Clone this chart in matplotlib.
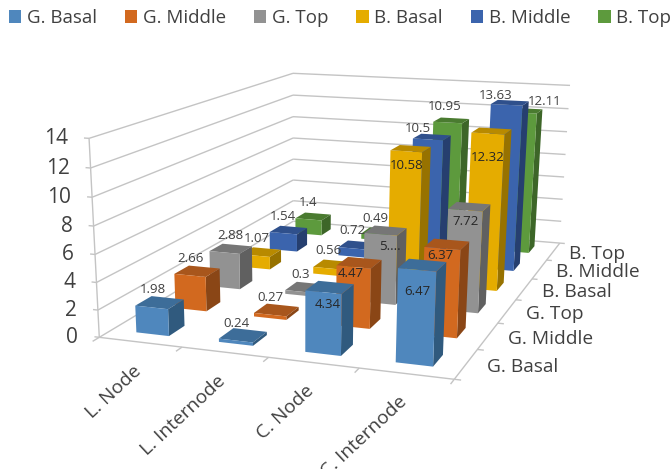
import numpy as np
import matplotlib
matplotlib.use('Agg')
import matplotlib.pyplot as plt
from matplotlib.patches import Patch
from mpl_toolkits.mplot3d.art3d import Line3DCollection

plt.rcParams['font.family'] = ['Open Sans', 'DejaVu Sans']

categories = ['L. Node', 'L. Internode', 'C. Node', 'C. Internode']
series = ['G. Basal', 'G. Middle', 'G. Top', 'B. Basal', 'B. Middle', 'B. Top']
g_basal = [1.98, 0.24, 4.34, 6.47]
g_middle = [2.66, 0.27, 4.47, 6.37]
g_top = [2.88, 0.30, 5.40, 7.72]
b_basal = [1.07, 0.56, 10.58, 12.32]
b_middle = [1.54, 0.72, 10.50, 13.63]
b_top = [1.40, 0.49, 10.95, 12.11]
values = [g_basal, g_middle, g_top, b_basal, b_middle, b_top]
z_ticks = [0, 2, 4, 6, 8, 10, 12, 14]

# label offset in pixels from the top front edge of each bar
label_offsets = [
    [(1, -18), (1, -17), (4, 12), (0, 22)],
    [(1, -17), (0, -17), (-3, 7), (-2, 7)],
    [(6, -17), (0, -17), (9, 12), (0, 11)],
    [(1, -17), (1, -18), (0, 14), (0, 24)],
    [(0, -17), (0, -18), (-10, -11), (-11, -9)],
    [(0, -17), (1, -16), (-3, -16), (23, -11)],
]

front_cols = ['#4f87bd', '#d2691f', '#929292', '#e5ac00', '#3b64ad', '#5d9a3d']
top_cols = ['#3d6d99', '#a8561c', '#767676', '#b88a00', '#2f508c', '#4a7b30']
side_cols = ['#305a7e', '#8a4616', '#606060', '#977200', '#263f6f', '#3d6628']
GRID = '#c4c4c4'
NONE = (0, 0, 0, 0)

# Camera: a projective map fitted to where the chart box corners lie in the image
world = np.array([[0, 0, 0], [4, 0, 0], [4, 6, 0], [0, 6, 0],
                  [0, 0, 14], [0, 6, 14], [4, 6, 14]], float)
image = np.array([[99.6, 337], [454, 380], [560, 242], [293, 222],
                  [89, 138], [293, 73], [570, 86]], float)
rows = []
for (X, Y, Z), (u, v) in zip(world, image):
    rows.append([X, Y, Z, 1, 0, 0, 0, 0, -u*X, -u*Y, -u*Z, -u])
    rows.append([0, 0, 0, 0, X, Y, Z, 1, -v*X, -v*Y, -v*Z, -v])
P = np.linalg.svd(np.array(rows))[2][-1].reshape(3, 4)
P = P / (P[2] @ np.array([2, 3, 5, 1]))
M = np.vstack([P[0], P[1], P[2] - np.array([0, 0, 0, 0.5]), P[2]])


def project(x, y, z):
    u, v, w = P @ np.array([x, y, z, 1.0])
    return u / w, v / w


fig = plt.figure(figsize=(6.7, 4.69), dpi=100)
ax = fig.add_axes([0, 0, 1, 1], projection='3d', computed_zorder=False)
ax.apply_aspect = lambda position=None: None
ax.get_proj = lambda: M
ax.set_axis_off()
ax.viewLim.intervalx = (0, 670)
ax.viewLim.intervaly = (469, 0)


def label(x, y, z, dx, dy, s, **kw):
    u, v = project(x, y, z)
    ax.text2D(u + dx, v + dy, s, transform=ax.transData, **kw)


# walls and floor
segs = []
for t in z_ticks:
    segs.append([(0, 0, t), (0, 6, t)])
    segs.append([(0, 6, t), (4, 6, t)])
    segs.append([(0, 0, t), (-0.06, 0, t)])
segs += [[(0, 0, 0), (0, 0, 14)], [(0, 0, 0), (4, 0, 0)], [(4, 0, 0), (4, 6, 0)]]
for i in range(len(categories) + 1):
    segs.append([(i, 0, 0), (i, -0.15, 0)])
for j in range(len(series) + 1):
    segs.append([(4, j, 0), (4.07, j, 0)])
ax.add_collection3d(Line3DCollection(segs, colors=GRID, linewidths=1, zorder=1))

# bars, painted back to front
bar_w = 0.4
order = 10
for j in reversed(range(len(series))):
    for i in range(len(categories)):
        ax.bar3d(i + 0.3, j + 0.3, 0, bar_w, bar_w, values[j][i], shade=False, linewidth=0,
                 color=[NONE, top_cols[j], front_cols[j], NONE, NONE, side_cols[j]],
                 zorder=order)
        order += 1

# data labels
for j in range(len(series)):
    for i in range(len(categories)):
        v = values[j][i]
        text = '5....' if (i, j) == (2, 2) else f'{v:g}'
        dx, dy = label_offsets[j][i]
        label(i + 0.5, j + 0.3, v, dx, dy, text, ha='center', va='center',
              fontsize=9.5, color='#262626' if dy > 0 else '#404040', zorder=100)

# axis labels
for t in z_ticks:
    label(0, 0, t, -21, 0, str(t), ha='right', va='center', fontsize=15, color='#404040', zorder=100)
for i, c in enumerate(categories):
    label(i + 0.5, 0, 0, -2, 26, c, ha='right', va='center', rotation=43,
          rotation_mode='anchor', fontsize=13.8, color='#404040', zorder=100)
for j, s in enumerate(series):
    label(4.22, j + 0.5, 0, 0, 1, s, ha='left', va='center', fontsize=13.8, color='#404040', zorder=100)

handles = [Patch(facecolor=c, edgecolor='none', label=s) for c, s in zip(front_cols, series)]
fig.legend(handles=handles, loc='upper left', bbox_to_anchor=(9 / 670, 1 - 9 / 469), ncol=6, frameon=False,
           fontsize=13.5, handlelength=0.65, handleheight=0.65, handletextpad=0.3,
           columnspacing=1.5, borderaxespad=0, borderpad=0, labelcolor='#404040')

fig.savefig('out.png', dpi=100)
